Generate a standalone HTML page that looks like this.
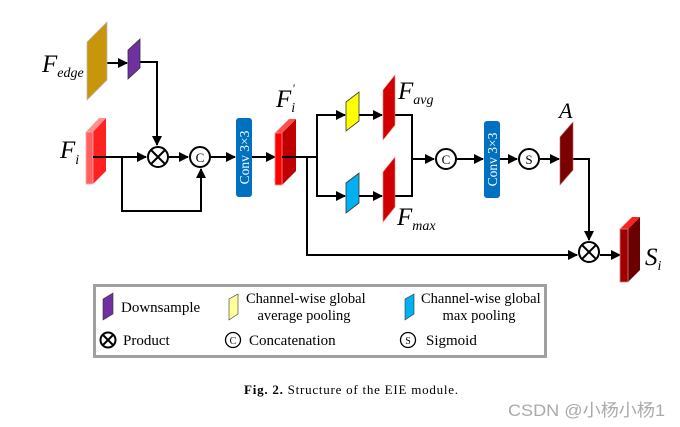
<!DOCTYPE html>
<html><head><meta charset="utf-8"><style>
html,body{margin:0;padding:0;background:#fff;}
svg{display:block;}
text{font-family:"Liberation Serif",serif;}
</style></head><body>
<svg width="680" height="427" viewBox="0 0 680 427" xmlns="http://www.w3.org/2000/svg">
<defs>
<marker id="ar" markerWidth="10" markerHeight="10" refX="9" refY="5" orient="auto" markerUnits="userSpaceOnUse">
<path d="M0,0 L10,5 L0,10 z" fill="#000"/></marker>
</defs>
<g stroke="#000" stroke-width="2" fill="none">
<line x1="107" y1="63" x2="127" y2="63" marker-end="url(#ar)"/>
<polyline points="140,62 157,62 157,145" marker-end="url(#ar)"/>
<line x1="93" y1="157" x2="146" y2="157" marker-end="url(#ar)"/>
<polyline points="122,157 122,211 201,211 201,169" marker-end="url(#ar)"/>
<line x1="169" y1="157" x2="188" y2="157" marker-end="url(#ar)"/>
<line x1="211" y1="157" x2="235" y2="157" marker-end="url(#ar)"/>
<line x1="252" y1="157" x2="275" y2="157" marker-end="url(#ar)"/>
<line x1="283" y1="157" x2="317" y2="157"/>
<polyline points="317,157 317,115 345,115" marker-end="url(#ar)"/>
<polyline points="317,157 317,196 345,196" marker-end="url(#ar)"/>
<line x1="359" y1="115" x2="382" y2="115" marker-end="url(#ar)"/>
<line x1="359" y1="196" x2="382" y2="196" marker-end="url(#ar)"/>
<polyline points="395,115 412,115 412,196 395,196"/>
<line x1="412" y1="159" x2="434" y2="159" marker-end="url(#ar)"/>
<line x1="457" y1="159" x2="483" y2="159" marker-end="url(#ar)"/>
<line x1="500" y1="159" x2="517" y2="159" marker-end="url(#ar)"/>
<line x1="540" y1="159" x2="559" y2="159" marker-end="url(#ar)"/>
<polyline points="572,159 589,159 589,240" marker-end="url(#ar)"/>
<polyline points="307,157 307,255 577,255" marker-end="url(#ar)"/>
<line x1="600" y1="255" x2="620" y2="255" marker-end="url(#ar)"/>
</g>
<polygon points="87,42 107,22 107,80 87,100" fill="#c8960a" stroke="#bbb" stroke-width="0.8"/>
<polygon points="128,50 140,39 140,68 128,79" fill="#7030a0" stroke="#333" stroke-width="0.8"/>
<polygon points="93,132 106,118 106,171 93,184" fill="#ff2020"/>
<polygon points="86,132 99,118 106,118 93,132" fill="#ff9090"/>
<rect x="86" y="132" width="7" height="52" fill="#ff6060" stroke="#ffaaaa" stroke-width="0.8"/>
<line x1="93" y1="157" x2="107" y2="157" stroke="#000" stroke-width="2"/>
<polygon points="282,133 296,119 296,171 282,185" fill="#c00000"/>
<polygon points="275,133 289,119 296,119 282,133" fill="#ff5050"/>
<rect x="275" y="133" width="7" height="52" fill="#ff0000" stroke="#ff9090" stroke-width="0.8"/>
<line x1="282" y1="157" x2="297" y2="157" stroke="#000" stroke-width="2"/>
<polygon points="628,229 640,217 640,270 628,282" fill="#6a0000"/>
<polygon points="620,229 632,217 640,217 628,229" fill="#ff2020"/>
<rect x="620" y="229" width="8" height="53" fill="#a00000" stroke="#d08080" stroke-width="0.8"/>
<polygon points="346,102 359,92 359,121 346,131" fill="#ffff00" stroke="#333" stroke-width="0.8"/>
<polygon points="346,183 359,173 359,203 346,213" fill="#00b0f0" stroke="#333" stroke-width="0.8"/>
<polygon points="383,90 395,75 395,125 383,140" fill="#d00000" stroke="#e88" stroke-width="0.6"/>
<polygon points="383,172 395,157 395,207 383,222" fill="#d00000" stroke="#e88" stroke-width="0.6"/>
<polygon points="560,137 573,122 573,170 560,185" fill="#7b0000" stroke="#b66" stroke-width="0.6"/>
<rect x="236" y="118" width="16" height="79" rx="3" fill="#0070c0"/>
<text transform="translate(249,157.5) rotate(-90)" text-anchor="middle" font-size="13.5" fill="#fff">Conv 3×3</text>
<rect x="484" y="121" width="16" height="77" rx="3" fill="#0070c0"/>
<text transform="translate(497,159.5) rotate(-90)" text-anchor="middle" font-size="13.5" fill="#fff">Conv 3×3</text>
<g stroke="#000" stroke-width="2" fill="#fff">
<circle cx="158" cy="157" r="10"/>
<circle cx="200" cy="157" r="10"/>
<circle cx="446" cy="159" r="10"/>
<circle cx="529" cy="159" r="10"/>
<circle cx="589" cy="252" r="10"/>
</g>
<g stroke="#000" stroke-width="2">
<line x1="151" y1="150" x2="165" y2="164"/><line x1="165" y1="150" x2="151" y2="164"/>
<line x1="582" y1="245" x2="596" y2="259"/><line x1="596" y1="245" x2="582" y2="259"/>
</g>
<text x="200" y="162" font-size="13" text-anchor="middle">C</text>
<text x="446" y="164" font-size="13" text-anchor="middle">C</text>
<text x="529" y="164" font-size="13" text-anchor="middle">S</text>
<text x="42" y="72" font-size="25" font-style="italic">F<tspan font-size="14" dy="5">edge</tspan></text>
<text x="60" y="158" font-size="25" font-style="italic">F<tspan font-size="14" dy="6">i</tspan></text>
<text x="276" y="107" font-size="25" font-style="italic">F<tspan font-size="14" dy="5">i</tspan><tspan font-size="12" dx="-3" dy="-20">'</tspan></text>
<text x="398" y="99" font-size="25" font-style="italic">F<tspan font-size="14" dy="5">avg</tspan></text>
<text x="397" y="225" font-size="25" font-style="italic">F<tspan font-size="14" dy="5">max</tspan></text>
<text x="559" y="118" font-size="22" font-style="italic">A</text>
<text x="645" y="265" font-size="25" font-style="italic">S<tspan font-size="14" dy="5">i</tspan></text>
<rect x="94.5" y="285.5" width="451" height="71" fill="#fff" stroke="#a0a0a0" stroke-width="3"/>
<polygon points="103,299 113,293 113,314 103,320" fill="#7030a0" stroke="#333" stroke-width="0.6"/>
<text x="121" y="312" font-size="15">Downsample</text>
<polygon points="229,299 238,294 238,314 229,320" fill="#ffff99" stroke="#333" stroke-width="0.6"/>
<text x="246" y="303" font-size="14.5">Channel-wise global</text>
<text x="304" y="320" font-size="14.5" text-anchor="middle">average pooling</text>
<polygon points="405,299 414,294 414,314 405,320" fill="#00b0f0" stroke="#333" stroke-width="0.6"/>
<text x="421" y="303" font-size="14.5">Channel-wise global</text>
<text x="479" y="320" font-size="14.5" text-anchor="middle">max pooling</text>
<circle cx="108" cy="340" r="7.5" fill="#fff" stroke="#000" stroke-width="2"/>
<line x1="103" y1="335" x2="113" y2="345" stroke="#000" stroke-width="2"/><line x1="113" y1="335" x2="103" y2="345" stroke="#000" stroke-width="2"/>
<text x="123" y="345" font-size="15">Product</text>
<circle cx="233" cy="340" r="7.5" fill="#fff" stroke="#000" stroke-width="1.3"/>
<text x="233" y="344" font-size="10" text-anchor="middle">C</text>
<text x="249" y="345" font-size="15">Concatenation</text>
<circle cx="408" cy="340" r="7.5" fill="#fff" stroke="#000" stroke-width="1.3"/>
<text x="408" y="344" font-size="10" text-anchor="middle">S</text>
<text x="426" y="345" font-size="15">Sigmoid</text>
<text x="244" y="394" font-size="13" textLength="214" lengthAdjust="spacing"><tspan font-weight="bold">Fig. 2.</tspan>  Structure of the EIE module.</text>
<text x="508" y="416" font-size="17" fill="#aaa" textLength="157" lengthAdjust="spacingAndGlyphs" style="font-family:'Liberation Sans','Noto Sans CJK SC',sans-serif">CSDN @小杨小杨1</text>
</svg>
</body></html>
